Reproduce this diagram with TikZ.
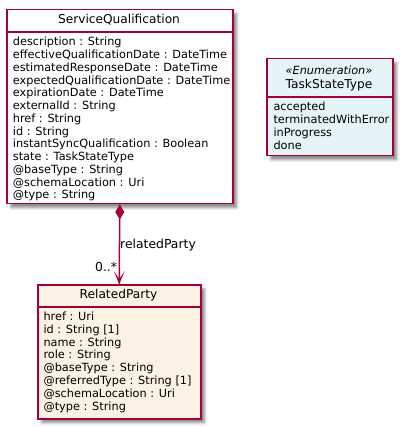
\documentclass[tikz,border=0pt]{standalone}
\usepackage{fontspec}
\setmainfont{DejaVu Sans}
\usetikzlibrary{shadows.blur}
\definecolor{umlborder}{HTML}{A80036}
\definecolor{partyfill}{HTML}{FCF2E3}
\definecolor{enumfill}{HTML}{E5F4F7}

\begin{document}
\begin{tikzpicture}[x=1pt,y=-1pt,
  classbox/.style={draw=umlborder, line width=1.5pt, anchor=north west, inner sep=0pt,
    blur shadow={shadow xshift=4pt, shadow yshift=-4pt, shadow blur radius=2.5pt, shadow opacity=45}},
  divider/.style={umlborder, line width=1.5pt},
  attr/.style={anchor=base west, inner sep=0pt, font=\fontsize{11.3}{13}\selectfont},
  classname/.style={anchor=base, inner sep=0pt, font=\fontsize{12.2}{14}\selectfont},
  stereo/.style={anchor=base, inner sep=0pt, font=\fontsize{11.3}{13}\selectfont\itshape},
  rolelabel/.style={inner sep=0pt, font=\fontsize{12.4}{14}\selectfont},
  assoc/.style={umlborder, line width=1.5pt}]

\useasboundingbox (0,0) rectangle (402,427);

% ServiceQualification
\node[classbox, fill=white, minimum width=226pt, minimum height=194pt] (sq) at (6,9) {};
\draw[divider] (6,32) -- (232,32);
\node[classname] (sqname) at (119,24) {ServiceQualification};
\foreach \t [count=\i from 0] in {description : String,
  effectiveQualificationDate : DateTime,
  estimatedResponseDate : DateTime,
  expectedQualificationDate : DateTime,
  expirationDate : DateTime,
  externalId : String,
  href : String,
  id : String,
  instantSyncQualification : Boolean,
  state : TaskStateType,
  @baseType : String,
  @schemaLocation : Uri,
  @type : String}
  \node[attr] (sqattr\i) at (12.7,{46+12.75*\i}) {\t};

% TaskStateType enumeration
\node[classbox, fill=enumfill, minimum width=126pt, minimum height=97pt] (tst) at (266,58) {};
\draw[divider] (266,97) -- (392,97);
\node[stereo] (tststereo) at (329,75) {«Enumeration»};
\node[classname] (tstname) at (329,89) {TaskStateType};
\foreach \t [count=\i from 0] in {accepted, terminatedWithError, inProgress, done}
  \node[attr] (tstval\i) at (273.3,{111+12.7*\i}) {\t};

% RelatedParty
\node[classbox, fill=partyfill, minimum width=163pt, minimum height=134pt] (rp) at (37,284) {};
\draw[divider] (37,307) -- (200,307);
\node[classname] (rpname) at (118.5,298.7) {RelatedParty};
\foreach \t [count=\i from 0] in {href : Uri,
  id : String [1],
  name : String,
  role : String,
  @baseType : String,
  @referredType : String [1],
  @schemaLocation : Uri,
  @type : String}
  \node[attr] (rpattr\i) at (43.3,{320.7+12.76*\i}) {\t};

% composition: ServiceQualification -> RelatedParty
\draw[assoc] (sq.south) -- (rp.north);
\fill[umlborder] (sq.south) -- ++(4.5,7.5) -- ++(-4.5,7.5) -- ++(-4.5,-7.5) -- cycle;
\fill[umlborder] (rp.north) -- ++(-5.5,-13) -- ++(5.5,8) -- ++(5.5,-8) -- cycle;
\node[rolelabel, anchor=base west] (rolename) at (120,248) {relatedParty};
\node[rolelabel, anchor=base east] (multiplicity) at (117.3,271.7) {0..*};

\end{tikzpicture}
\end{document}
